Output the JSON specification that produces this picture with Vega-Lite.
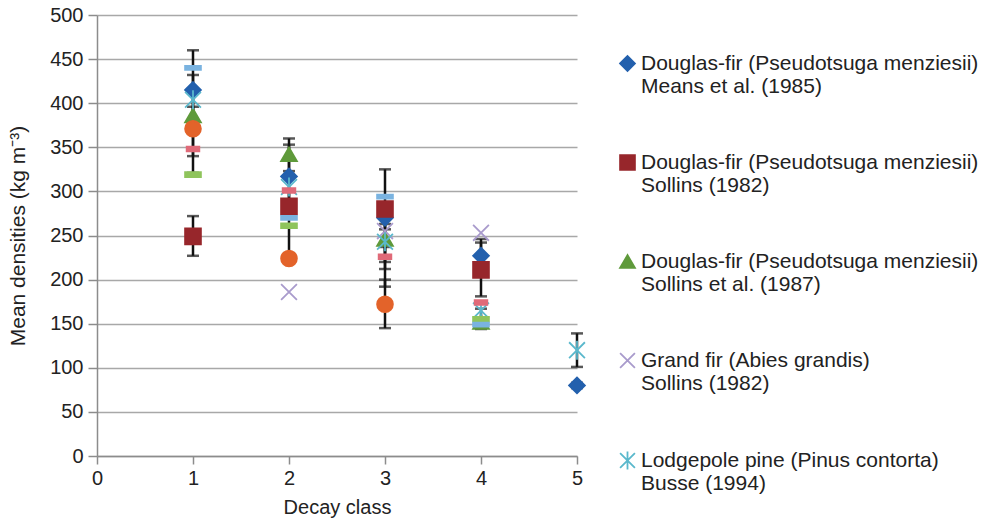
{
  "$schema": "https://vega.github.io/schema/vega-lite/v6.json",
  "width": 480,
  "height": 441,
  "autosize": {"type": "none"},
  "padding": {"left": 97, "top": 15, "right": 407, "bottom": 67},
  "background": "white",
  "config": {
    "font": "Liberation Sans",
    "view": {"stroke": null},
    "axis": {
      "domainColor": "#8c8c8c",
      "domainWidth": 1.5,
      "tickColor": "#8c8c8c",
      "tickWidth": 1.5,
      "labelFontSize": 20,
      "labelColor": "#222222",
      "labelFlush": false,
      "titleFontSize": 20,
      "titleFontWeight": "normal",
      "titleColor": "#222222"
    },
    "axisY": {"gridColor": "#a8a8a8", "gridWidth": 1.5, "tickSize": 9, "labelPadding": 5, "titlePadding": 21, "titleFontSize": 21},
    "axisX": {"grid": false, "tickSize": 8, "labelPadding": 4, "titlePadding": 9}
  },
  "datasets": {
    "points": [
      {"decay": 1, "value": 415, "series": "Douglas-fir (Pseudotsuga menziesii)|Means et al. (1985)"},
      {"decay": 2, "value": 317, "series": "Douglas-fir (Pseudotsuga menziesii)|Means et al. (1985)"},
      {"decay": 3, "value": 270, "series": "Douglas-fir (Pseudotsuga menziesii)|Means et al. (1985)"},
      {"decay": 4, "value": 227, "series": "Douglas-fir (Pseudotsuga menziesii)|Means et al. (1985)"},
      {"decay": 5, "value": 80, "series": "Douglas-fir (Pseudotsuga menziesii)|Means et al. (1985)"},
      {"decay": 1, "value": 249, "series": "Douglas-fir (Pseudotsuga menziesii)|Sollins (1982)"},
      {"decay": 2, "value": 283, "series": "Douglas-fir (Pseudotsuga menziesii)|Sollins (1982)"},
      {"decay": 3, "value": 280, "series": "Douglas-fir (Pseudotsuga menziesii)|Sollins (1982)"},
      {"decay": 4, "value": 211, "series": "Douglas-fir (Pseudotsuga menziesii)|Sollins (1982)"},
      {"decay": 1, "value": 386, "series": "Douglas-fir (Pseudotsuga menziesii)|Sollins et al. (1987)"},
      {"decay": 2, "value": 342, "series": "Douglas-fir (Pseudotsuga menziesii)|Sollins et al. (1987)"},
      {"decay": 3, "value": 246, "series": "Douglas-fir (Pseudotsuga menziesii)|Sollins et al. (1987)"},
      {"decay": 4, "value": 152, "series": "Douglas-fir (Pseudotsuga menziesii)|Sollins et al. (1987)"},
      {"decay": 2, "value": 186, "series": "Grand fir (Abies grandis)|Sollins (1982)"},
      {"decay": 3, "value": 255, "series": "Grand fir (Abies grandis)|Sollins (1982)"},
      {"decay": 4, "value": 253, "series": "Grand fir (Abies grandis)|Sollins (1982)"},
      {"decay": 1, "value": 404, "series": "Lodgepole pine (Pinus contorta)|Busse (1994)"},
      {"decay": 2, "value": 305, "series": "Lodgepole pine (Pinus contorta)|Busse (1994)"},
      {"decay": 3, "value": 243, "series": "Lodgepole pine (Pinus contorta)|Busse (1994)"},
      {"decay": 4, "value": 165, "series": "Lodgepole pine (Pinus contorta)|Busse (1994)"},
      {"decay": 5, "value": 120, "series": "Lodgepole pine (Pinus contorta)|Busse (1994)"},
      {"decay": 1, "value": 371, "series": "Other F"},
      {"decay": 2, "value": 224, "series": "Other F"},
      {"decay": 3, "value": 172, "series": "Other F"},
      {"decay": 1, "value": 319, "series": "Other G"},
      {"decay": 2, "value": 261, "series": "Other G"},
      {"decay": 4, "value": 155, "series": "Other G"},
      {"decay": 1, "value": 348, "series": "Other H"},
      {"decay": 2, "value": 301, "series": "Other H"},
      {"decay": 3, "value": 226, "series": "Other H"},
      {"decay": 4, "value": 174, "series": "Other H"},
      {"decay": 1, "value": 440, "series": "Other I"},
      {"decay": 2, "value": 270, "series": "Other I"},
      {"decay": 3, "value": 294, "series": "Other I"},
      {"decay": 4, "value": 149, "series": "Other I"}
    ],
    "bars": [
      {"decay": 1, "lo": 370, "hi": 460},
      {"decay": 1, "lo": 340, "hi": 432},
      {"decay": 1, "lo": 321, "hi": 396},
      {"decay": 1, "lo": 227, "hi": 272},
      {"decay": 2, "lo": 323, "hi": 360},
      {"decay": 2, "lo": 275, "hi": 353},
      {"decay": 2, "lo": 230, "hi": 300},
      {"decay": 3, "lo": 237, "hi": 325},
      {"decay": 3, "lo": 192, "hi": 263},
      {"decay": 3, "lo": 212, "hi": 257},
      {"decay": 3, "lo": 145, "hi": 200},
      {"decay": 3, "lo": 220, "hi": 275},
      {"decay": 4, "lo": 181, "hi": 246},
      {"decay": 4, "lo": 144, "hi": 167},
      {"decay": 4, "lo": 205, "hi": 242},
      {"decay": 5, "lo": 101, "hi": 139},
      {"decay": 5, "lo": 77, "hi": 83}
    ]
  },
  "encoding": {
    "x": {
      "field": "decay",
      "type": "quantitative",
      "title": "Decay class",
      "scale": {"domain": [0, 5], "nice": false},
      "axis": {"values": [0, 1, 2, 3, 4, 5]}
    }
  },
  "layer": [
    {
      "data": {"name": "bars"},
      "mark": {"type": "rule", "color": "#111111", "strokeWidth": 2.5},
      "encoding": {
        "y": {"field": "lo", "type": "quantitative", "title": "Mean densities (kg m⁻³)", "scale": {"domain": [0, 500], "nice": false}, "axis": {"values": [0, 50, 100, 150, 200, 250, 300, 350, 400, 450, 500]}},
        "y2": {"field": "hi"}
      }
    },
    {
      "data": {"name": "bars"},
      "mark": {"type": "tick", "orient": "horizontal", "color": "#111111", "thickness": 2.5, "size": 12},
      "encoding": {"y": {"field": "lo", "type": "quantitative", "title": "Mean densities (kg m⁻³)"}}
    },
    {
      "data": {"name": "bars"},
      "mark": {"type": "tick", "orient": "horizontal", "color": "#111111", "thickness": 2.5, "size": 12},
      "encoding": {"y": {"field": "hi", "type": "quantitative", "title": "Mean densities (kg m⁻³)"}}
    },
    {
      "data": {"name": "points"},
      "mark": {"type": "point", "size": 250, "strokeWidth": 1.8, "opacity": 1},
      "encoding": {
        "y": {"field": "value", "type": "quantitative", "title": "Mean densities (kg m⁻³)"},
        "shape": {
          "field": "series", "type": "nominal", "title": null,
          "scale": {
            "domain": ["Douglas-fir (Pseudotsuga menziesii)|Means et al. (1985)", "Douglas-fir (Pseudotsuga menziesii)|Sollins (1982)", "Douglas-fir (Pseudotsuga menziesii)|Sollins et al. (1987)", "Grand fir (Abies grandis)|Sollins (1982)", "Lodgepole pine (Pinus contorta)|Busse (1994)", "Other F", "Other G", "Other H", "Other I"],
            "range": ["diamond", "square", "triangle-up", "M-1,-1L1,1M-1,1L1,-1", "M-1,-1L1,1M-1,1L1,-1M0,-1.2L0,1.2", "circle", "M-1,-0.3L1,-0.3L1,0.3L-1,0.3Z", "M-0.8,-0.3L0.8,-0.3L0.8,0.3L-0.8,0.3Z", "M-1,-0.25L1,-0.25L1,0.25L-1,0.25Z"]
          },
          "legend": {
            "orient": "none", "legendX": 520, "legendY": 38, "padding": 0,
            "values": ["Douglas-fir (Pseudotsuga menziesii)|Means et al. (1985)", "Douglas-fir (Pseudotsuga menziesii)|Sollins (1982)", "Douglas-fir (Pseudotsuga menziesii)|Sollins et al. (1987)", "Grand fir (Abies grandis)|Sollins (1982)", "Lodgepole pine (Pinus contorta)|Busse (1994)"],
            "labelExpr": "split(datum.label, '|')",
            "labelFontSize": 21, "labelColor": "#222222", "labelLimit": 500, "labelOffset": 3,
            "labelBaseline": "middle",
            "rowPadding": 54, "symbolSize": 220, "symbolStrokeWidth": 1.8
          }
        },
        "fill": {
          "field": "series", "type": "nominal", "title": null,
          "scale": {
            "domain": ["Douglas-fir (Pseudotsuga menziesii)|Means et al. (1985)", "Douglas-fir (Pseudotsuga menziesii)|Sollins (1982)", "Douglas-fir (Pseudotsuga menziesii)|Sollins et al. (1987)", "Grand fir (Abies grandis)|Sollins (1982)", "Lodgepole pine (Pinus contorta)|Busse (1994)", "Other F", "Other G", "Other H", "Other I"],
            "range": ["#2360ad", "#97262b", "#5f9a3b", "transparent", "transparent", "#e3632a", "#8fc45c", "#e06a78", "#7ab3e0"]
          },
          "legend": {
            "orient": "none", "legendX": 520, "legendY": 38, "padding": 0,
            "values": ["Douglas-fir (Pseudotsuga menziesii)|Means et al. (1985)", "Douglas-fir (Pseudotsuga menziesii)|Sollins (1982)", "Douglas-fir (Pseudotsuga menziesii)|Sollins et al. (1987)", "Grand fir (Abies grandis)|Sollins (1982)", "Lodgepole pine (Pinus contorta)|Busse (1994)"],
            "labelExpr": "split(datum.label, '|')",
            "labelFontSize": 21, "labelColor": "#222222", "labelLimit": 500, "labelOffset": 3,
            "labelBaseline": "middle",
            "rowPadding": 54, "symbolSize": 220, "symbolStrokeWidth": 1.8
          }
        },
        "stroke": {
          "field": "series", "type": "nominal", "title": null,
          "scale": {
            "domain": ["Douglas-fir (Pseudotsuga menziesii)|Means et al. (1985)", "Douglas-fir (Pseudotsuga menziesii)|Sollins (1982)", "Douglas-fir (Pseudotsuga menziesii)|Sollins et al. (1987)", "Grand fir (Abies grandis)|Sollins (1982)", "Lodgepole pine (Pinus contorta)|Busse (1994)", "Other F", "Other G", "Other H", "Other I"],
            "range": ["#2360ad", "#97262b", "#5f9a3b", "#a99bcc", "#5ab8cc", "#e3632a", "#8fc45c", "#e06a78", "#7ab3e0"]
          },
          "legend": {
            "orient": "none", "legendX": 520, "legendY": 38, "padding": 0,
            "values": ["Douglas-fir (Pseudotsuga menziesii)|Means et al. (1985)", "Douglas-fir (Pseudotsuga menziesii)|Sollins (1982)", "Douglas-fir (Pseudotsuga menziesii)|Sollins et al. (1987)", "Grand fir (Abies grandis)|Sollins (1982)", "Lodgepole pine (Pinus contorta)|Busse (1994)"],
            "labelExpr": "split(datum.label, '|')",
            "labelFontSize": 21, "labelColor": "#222222", "labelLimit": 500, "labelOffset": 3,
            "labelBaseline": "middle",
            "rowPadding": 54, "symbolSize": 220, "symbolStrokeWidth": 1.8
          }
        }
      }
    }
  ]
}
